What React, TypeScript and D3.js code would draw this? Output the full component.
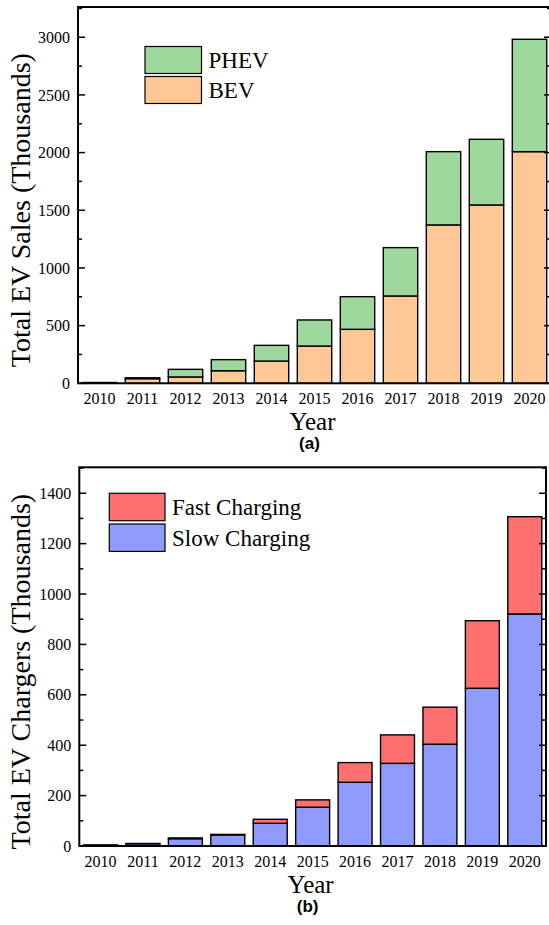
import React from 'react'
import * as d3 from 'd3'

const years = ['2010', '2011', '2012', '2013', '2014', '2015', '2016', '2017', '2018', '2019', '2020']

// EV sales, thousands
const bevSales = [5, 40, 55, 109, 193, 323, 468, 757, 1373, 1546, 2008]
const phevSales = [2, 8, 66, 96, 136, 226, 283, 419, 635, 569, 974]
const salesTicks = [0, 500, 1000, 1500, 2000, 2500, 3000]

// EV chargers, thousands
const slowChargers = [3, 9, 29, 44, 90, 154, 253, 328, 404, 626, 921]
const fastChargers = [1, 1, 3, 2, 16, 29, 78, 113, 147, 268, 386]
const chargerTicks = [0, 200, 400, 600, 800, 1000, 1200, 1400]

const serif = '"Liberation Serif", "Times New Roman", serif'

function Panel(props: any) {
  const { box, yMax, ticks, minorStep, lower, upper, colors, names, title, tag, legend } = props

  const xScale = d3.scaleBand()
    .domain(years)
    .range([box.left, box.right])
    .paddingInner(0.2)
    .paddingOuter(0.1)

  const yScale = d3.scaleLinear()
    .domain([0, yMax])
    .range([box.bottom, box.top])

  const minor = d3.range(0, yMax, minorStep).filter(v => ticks.indexOf(v) < 0)
  const midX = (box.left + box.right) / 2

  const bars = years.map((yr, i) => {
    const x = xScale(yr) as number
    const w = xScale.bandwidth()
    return (
      <g key={yr}>
        <rect x={x} y={yScale(lower[i])} width={w} height={box.bottom - yScale(lower[i])}
          fill={colors[0]} stroke='#000' strokeWidth={1.4} />
        <rect x={x} y={yScale(lower[i] + upper[i])} width={w}
          height={yScale(lower[i]) - yScale(lower[i] + upper[i])}
          fill={colors[1]} stroke='#000' strokeWidth={1.4} />
      </g>
    )
  })

  const tickMarks = ticks.map((t: number) => (
    <g key={'t' + t}>
      <line x1={box.left} x2={box.left + 7} y1={yScale(t)} y2={yScale(t)} stroke='#000' strokeWidth={1.5} />
      <line x1={box.right} x2={box.right - 7} y1={yScale(t)} y2={yScale(t)} stroke='#000' strokeWidth={1.5} />
      <text x={box.left - 8} y={yScale(t)} dy='0.35em' textAnchor='end' fontSize={16} fontFamily={serif}>{t}</text>
    </g>
  ))

  const minorMarks = minor.map((t: number) => (
    <g key={'m' + t}>
      <line x1={box.left} x2={box.left + 4} y1={yScale(t)} y2={yScale(t)} stroke='#000' strokeWidth={1.5} />
      <line x1={box.right} x2={box.right - 4} y1={yScale(t)} y2={yScale(t)} stroke='#000' strokeWidth={1.5} />
    </g>
  ))

  const xLabels = years.map(yr => (
    <text key={'x' + yr} x={(xScale(yr) as number) + xScale.bandwidth() / 2} y={box.bottom + 21}
      textAnchor='middle' fontSize={16} fontFamily={serif}>{yr}</text>
  ))

  // legend: upper series first
  const legendRows = [1, 0].map((k, j) => (
    <g key={'l' + k}>
      <rect x={legend.x} y={legend.y + j * legend.gap} width={legend.w} height={legend.h}
        fill={colors[k]} stroke='#000' strokeWidth={1.2} />
      <text x={legend.x + legend.w + 7} y={legend.y + j * legend.gap + legend.h / 2} dy='0.35em'
        fontSize={23} fontFamily={serif}>{names[k]}</text>
    </g>
  ))

  return (
    <g>
      {bars}
      <rect x={box.left} y={box.top} width={box.right - box.left} height={box.bottom - box.top}
        fill='none' stroke='#000' strokeWidth={2} />
      {tickMarks}
      {minorMarks}
      {xLabels}
      {legendRows}
      <text x={midX - 2} y={box.bottom + 47} textAnchor='middle' fontSize={25} fontFamily={serif}>Year</text>
      <text x={midX - 5} y={box.bottom + 66} textAnchor='middle' fontSize={17} fontWeight='bold'
        fontFamily='"Liberation Sans", Arial, sans-serif'>{tag}</text>
      <text transform={'translate(30,' + ((box.top + box.bottom) / 2 + 15) + ') rotate(-90)'}
        textAnchor='middle' fontSize={28} fontFamily={serif}>{title}</text>
    </g>
  )
}

export default function App() {
  return (
    <svg width={549} height={925} style={{ position: 'absolute', left: 0, top: 0, background: '#fff' }}>
      <Panel
        box={{ left: 78, right: 551, top: 7, bottom: 383.3 }}
        yMax={3262}
        ticks={salesTicks}
        minorStep={250}
        lower={bevSales}
        upper={phevSales}
        colors={['#fdc896', '#9fd89d']}
        names={['BEV', 'PHEV']}
        title='Total EV Sales (Thousands)'
        tag='(a)'
        legend={{ x: 145, y: 46.5, w: 56.5, h: 27, gap: 30 }}
      />
      <Panel
        box={{ left: 79.3, right: 546, top: 467.3, bottom: 846 }}
        yMax={1503}
        ticks={chargerTicks}
        minorStep={100}
        lower={slowChargers}
        upper={fastChargers}
        colors={['#8f9cfd', '#fe7070']}
        names={['Slow Charging', 'Fast Charging']}
        title='Total EV Chargers (Thousands)'
        tag='(b)'
        legend={{ x: 109.3, y: 493.3, w: 55.7, h: 27.4, gap: 30.7 }}
      />
    </svg>
  )
}
